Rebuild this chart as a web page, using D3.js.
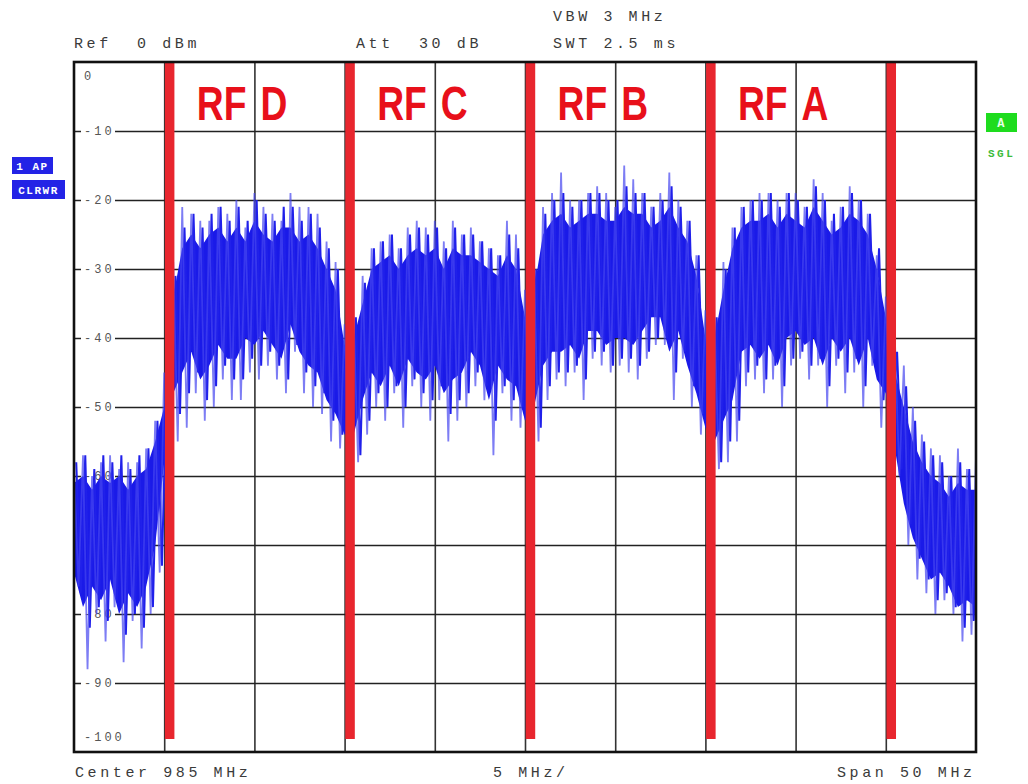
<!DOCTYPE html>
<html>
<head>
<meta charset="utf-8">
<script src="https://cdn.jsdelivr.net/npm/d3@7"></script>
<style>
  body { margin: 0; background: #fff; }
  text.mono { font-family: "Liberation Mono", monospace; }
</style>
</head>
<body>
<div id="chart"></div>
<script>
// sweep points every 0.5 MHz, 960 .. 1010 MHz
let freqStart = 960, freqStep = 0.5;
// outer spikes
let peakLevel = [
  -59, -57, -60, -58, -57, -59, -58, -58, -56, -52,
  -45, -29, -21, -22, -23, -23, -21, -22, -20, -24,
  -19, -21, -22, -23, -19, -21, -21, -22, -26, -29,
  -38, -37, -31, -27, -26, -25, -27, -24, -23, -24,
  -23, -26, -23, -25, -24, -26, -27, -28, -23, -25,
  -33, -30, -21, -19, -16, -20, -20, -19, -18, -19,
  -21, -15, -17, -19, -21, -19, -16, -20, -23, -28,
  -36, -37, -29, -24, -21, -20, -19, -19, -20, -19,
  -19, -21, -17, -19, -23, -21, -18, -20, -22, -28,
  -34, -40, -44, -50, -54, -56, -57, -60, -56, -59,
  -57
];
let troughLevel = [
  -76, -88, -80, -84, -79, -87, -81, -85, -80, -74,
  -62, -55, -53, -48, -52, -50, -46, -49, -49, -45,
  -46, -44, -46, -48, -42, -48, -50, -51, -55, -56,
  -58, -58, -54, -50, -52, -48, -53, -47, -50, -52,
  -49, -55, -52, -50, -47, -49, -57, -48, -52, -53,
  -56, -55, -49, -46, -47, -45, -49, -43, -44, -45,
  -44, -45, -46, -43, -41, -41, -49, -43, -50, -54,
  -57, -59, -58, -55, -47, -46, -48, -46, -50, -44,
  -43, -46, -44, -50, -44, -48, -45, -50, -44, -53,
  -52, -60, -70, -75, -77, -80, -78, -80, -84, -83,
  -83
];
// dense part of the trace
let coreHigh = [
  -61, -60, -62, -60, -61, -60, -62, -60, -59, -55,
  -50, -34, -27, -25, -27, -25, -24, -26, -24, -26,
  -23, -25, -26, -24, -24, -26, -25, -27, -30, -33,
  -41, -40, -35, -30, -29, -28, -30, -28, -27, -28,
  -27, -30, -27, -28, -28, -29, -30, -31, -28, -30,
  -37, -33, -25, -23, -22, -24, -23, -22, -22, -23,
  -23, -21, -22, -22, -24, -23, -21, -24, -26, -31,
  -40, -40, -33, -27, -24, -23, -23, -22, -24, -22,
  -23, -24, -21, -23, -25, -24, -22, -23, -25, -30,
  -37, -45, -50, -55, -58, -60, -61, -63, -61, -62,
  -62
];
let coreLow = [
  -74, -79, -76, -78, -75, -80, -77, -79, -76, -70,
  -58, -48, -45, -42, -46, -44, -41, -43, -43, -40,
  -41, -39, -41, -43, -38, -42, -44, -45, -49, -51,
  -54, -54, -49, -45, -47, -44, -47, -43, -45, -46,
  -44, -48, -46, -45, -42, -44, -49, -44, -46, -47,
  -52, -50, -44, -42, -42, -41, -43, -39, -39, -41,
  -40, -40, -41, -39, -37, -37, -42, -39, -44, -48,
  -53, -55, -52, -49, -42, -41, -43, -41, -44, -40,
  -39, -41, -40, -44, -40, -42, -40, -44, -40, -46,
  -48, -56, -64, -69, -72, -75, -74, -76, -79, -78,
  -79
];

let bandEdges = [965.3, 975.3, 985.3, 995.3, 1005.3];
let bandNames = ["D", "C", "B", "A"];
let bandGrid = [970, 980, 990, 1000];
let freqTicks = [965, 970, 975, 980, 985, 990, 995, 1000, 1005];
let levelTicks = [0, -10, -20, -30, -40, -50, -60, -70, -80, -90, -100];

let svgWidth = 1028, svgHeight = 784;
let margin = {top: 62, left: 74, right: 52, bottom: 32};
let width = svgWidth - margin.left - margin.right,
    height = svgHeight - margin.top - margin.bottom;

let x = d3.scaleLinear().domain([960, 1010]).range([0, width]);
let y = d3.scaleLinear().domain([-100, 0]).range([height, 0]);

let svg = d3.select("#chart").append("svg")
    .attr("width", svgWidth)
    .attr("height", svgHeight);

let g = svg.append("g")
    .attr("transform", "translate(" + margin.left + "," + margin.top + ")");

g.append("clipPath").attr("id", "plot-clip")
  .append("rect").attr("width", width).attr("height", height);

// grid
g.append("g")
    .attr("transform", "translate(0," + height + ")")
    .call(d3.axisBottom(x).tickValues(freqTicks).tickSize(-height).tickFormat(""))
    .call(a => a.select(".domain").remove())
    .call(a => a.selectAll("line").attr("stroke", "#333").attr("stroke-width", 1.6));

g.append("g")
    .call(d3.axisLeft(y).tickValues(levelTicks.slice(1, -1)).tickSize(-width).tickFormat(""))
    .call(a => a.select(".domain").remove())
    .call(a => a.selectAll("line").attr("stroke", "#222").attr("stroke-width", 1.6));

// level labels inside the frame
let labels = g.append("g");
levelTicks.forEach(function(v) {
    let ty = y(v);
    if (v === 0) ty = y(v) + 14;
    if (v === -100) ty = y(v) - 15;
    let txt = String(v);
    let w = txt.length * 10 + 4;
    if (v !== 0 && v !== -100) {
        labels.append("rect")
            .attr("x", 7).attr("y", ty - 6)
            .attr("width", w).attr("height", 12)
            .attr("fill", "#fff");
    }
    labels.append("text")
        .attr("class", "mono")
        .attr("x", 10).attr("y", ty + 4)
        .attr("font-size", 12)
        .attr("letter-spacing", 3)
        .attr("fill", "#555")
        .text(txt);
});

// trace
let points = peakLevel.map(function(p, i) { return freqStart + i * freqStep; });
let trace = g.append("g").attr("clip-path", "url(#plot-clip)");

let core = points.map(function(f, i) { return {f: f, hi: coreHigh[i], lo: coreLow[i]}; });
trace.append("path")
    .datum(core)
    .attr("fill", "#1a1ae8")
    .attr("d", d3.area()
        .x(d => x(d.f))
        .y0(d => y(d.lo))
        .y1(d => y(d.hi)));

let line = d3.line().x(d => x(d[0])).y(d => y(d[1]));

// dense spikes, edges of the solid part
let coreZig = [];
points.forEach(function(f, i) {
    coreZig.push([f + freqStep * 0.25, coreHigh[i] + 3]);
    coreZig.push([f + freqStep * 0.75, coreLow[i] - 3]);
});
trace.append("path")
    .datum(coreZig)
    .attr("fill", "none")
    .attr("stroke", "#2020ea")
    .attr("stroke-width", 2)
    .attr("d", line);

// outer spikes
let zig = [];
points.forEach(function(f, i) {
    zig.push([f, peakLevel[i]]);
    zig.push([f + freqStep / 2, troughLevel[i]]);
});
trace.append("path")
    .datum(zig)
    .attr("fill", "none")
    .attr("stroke", "#4646f0")
    .attr("stroke-opacity", 0.7)
    .attr("stroke-width", 1.8)
    .attr("d", line);

// band edges
g.selectAll(".edge")
    .data(bandEdges)
    .enter()
    .append("rect")
    .attr("class", "edge")
    .attr("x", d => x(d) - 4.7)
    .attr("y", 0)
    .attr("width", 9.5)
    .attr("height", height - 13)
    .attr("fill", "#e8262e");

// band names
bandGrid.forEach(function(f, i) {
    g.append("text")
        .attr("transform", "translate(" + (x(f) - 8) + ",58) scale(0.76,1)")
        .attr("text-anchor", "end")
        .attr("font-family", "Liberation Sans, Arial, sans-serif")
        .attr("font-weight", "bold")
        .attr("font-size", 49)
        .attr("fill", "#e8101a")
        .text("RF");
    g.append("text")
        .attr("transform", "translate(" + (x(f) + 6) + ",58) scale(0.76,1)")
        .attr("font-family", "Liberation Sans, Arial, sans-serif")
        .attr("font-weight", "bold")
        .attr("font-size", 49)
        .attr("fill", "#e8101a")
        .text(bandNames[i]);
});

// frame
g.append("rect")
    .attr("width", width).attr("height", height)
    .attr("fill", "none")
    .attr("stroke", "#111")
    .attr("stroke-width", 2.6);

// header / footer texts
function info(tx, ty, s) {
    svg.append("text")
        .attr("class", "mono")
        .attr("x", tx).attr("y", ty)
        .attr("font-size", 15)
        .attr("letter-spacing", 3.6)
        .attr("fill", "#3a3a3a")
        .style("white-space", "pre")
        .text(s);
}
info(74, 48, "Ref  0 dBm");
info(356, 48, "Att  30 dB");
info(553, 21, "VBW 3 MHz");
info(553, 48, "SWT 2.5 ms");
info(75, 777, "Center 985 MHz");
info(493, 777, "5 MHz/");
info(837, 777, "Span 50 MHz");

// side badges
function badge(bx, by, bw, bh, fill, s, color, size) {
    svg.append("rect")
        .attr("x", bx).attr("y", by).attr("width", bw).attr("height", bh)
        .attr("fill", fill);
    svg.append("text")
        .attr("class", "mono")
        .attr("x", bx + bw / 2).attr("y", by + bh / 2 + 4)
        .attr("text-anchor", "middle")
        .attr("font-size", size)
        .attr("font-weight", "bold")
        .attr("letter-spacing", 1.5)
        .attr("fill", color)
        .style("white-space", "pre")
        .text(s);
}
badge(12, 157, 41, 17, "#2323e6", "1 AP", "#fff", 11);
badge(12, 180, 53, 19, "#2323e6", "CLRWR", "#fff", 11);
badge(986, 113, 31, 19, "#1edc1e", "A", "#e8ffe8", 12);

svg.append("text")
    .attr("class", "mono")
    .attr("x", 988).attr("y", 157)
    .attr("font-size", 11)
    .attr("font-weight", "bold")
    .attr("letter-spacing", 2.5)
    .attr("fill", "#3cbc3c")
    .text("SGL");
</script>
</body>
</html>
